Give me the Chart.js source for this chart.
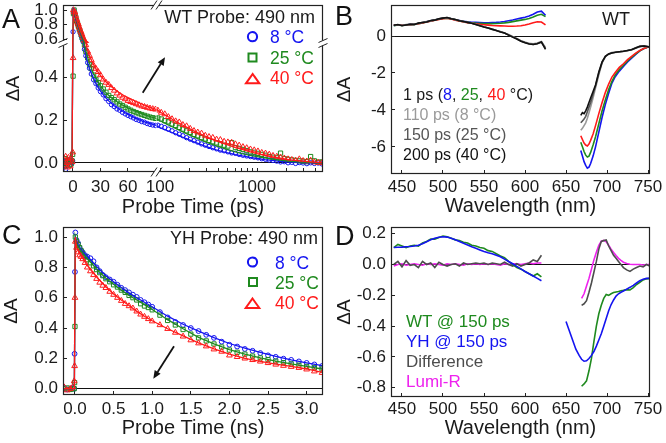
<!DOCTYPE html>
<html>
<head>
<meta charset="utf-8">
<title>Figure</title>
<script src="https://cdn.jsdelivr.net/npm/chart.js@4.4.1/dist/chart.umd.min.js"></script>
<style>
html,body{margin:0;padding:0;background:#fff;}
#wrap{position:relative;width:666px;height:443px;overflow:hidden;background:#fff;}
#wrap canvas{position:absolute;}
#ov{position:absolute;left:0;top:0;pointer-events:none;font-family:'Liberation Sans',Arial,sans-serif;}
</style>
</head>
<body>
<div id="wrap">
  <canvas id="cA" width="333" height="222" style="left:0;top:0;width:333px;height:222px"></canvas>
  <canvas id="cB" width="333" height="222" style="left:333px;top:0;width:333px;height:222px"></canvas>
  <canvas id="cC" width="333" height="221" style="left:0;top:222px;width:333px;height:221px"></canvas>
  <canvas id="cD" width="333" height="221" style="left:333px;top:222px;width:333px;height:221px"></canvas>
  <svg id="ov" width="666" height="443" viewBox="0 0 666 443">
    <g font-size="27" fill="#111">
      <text x="2" y="28">A</text><text x="335" y="25">B</text>
      <text x="2" y="244">C</text><text x="335" y="245">D</text>
    </g>
    <!-- Panel A texts -->
    <text x="315" y="23" font-size="18" text-anchor="end" fill="#1a1a1a">WT Probe: 490 nm</text>
    <circle cx="252.5" cy="36.7" r="4.6" fill="none" stroke="#1414f0" stroke-width="2"/>
    <rect x="248.5" y="53.5" width="8" height="8" fill="none" stroke="#1f8a1f" stroke-width="2"/>
    <polygon points="252.7,74 259.3,83.3 246,83.3" fill="none" stroke="#ff1a1a" stroke-width="2"/>
    <text x="270" y="43" font-size="17.5" fill="#1414f0">8 °C</text>
    <text x="270" y="63.5" font-size="17.5" fill="#1f8a1f">25 °C</text>
    <text x="270" y="84" font-size="17.5" fill="#ff1a1a">40 °C</text>
    <text x="193" y="213" font-size="20" text-anchor="middle" fill="#1a1a1a">Probe Time (ps)</text>
    <text transform="translate(18.6,88.5) rotate(-90)" font-size="19" text-anchor="middle" fill="#1a1a1a">ΔA</text>
    <line x1="142.7" y1="92.7" x2="160.7" y2="64.1" stroke="#111" stroke-width="1.8"/>
    <polygon points="165,57.3 163.7,66 157.7,62.2" fill="#111"/>
    <!-- Panel B texts -->
    <text x="630" y="25" font-size="18" text-anchor="end" fill="#1a1a1a">WT</text>
    <g font-size="16">
      <text x="403" y="100" fill="#1a1a1a">1 ps (<tspan fill="#1414f0">8</tspan>, <tspan fill="#1f8a1f">25</tspan>, <tspan fill="#ff1a1a">40</tspan> °C)</text>
      <text x="403" y="119.5" fill="#9a9a9a">110 ps (8 °C)</text>
      <text x="403" y="139.5" fill="#555555">150 ps (25 °C)</text>
      <text x="403" y="159.5" fill="#111111">200 ps (40 °C)</text>
    </g>
    <!-- Panel C texts -->
    <text x="318" y="244" font-size="18" text-anchor="end" fill="#1a1a1a">YH Probe: 490 nm</text>
    <circle cx="252.5" cy="262" r="4.6" fill="none" stroke="#1414f0" stroke-width="2"/>
    <rect x="249" y="278" width="8" height="8" fill="none" stroke="#1f8a1f" stroke-width="2"/>
    <polygon points="252.5,298.5 259.3,308 245.7,308" fill="none" stroke="#ff1a1a" stroke-width="2"/>
    <text x="275" y="269" font-size="17.5" fill="#1414f0">8 °C</text>
    <text x="275" y="289" font-size="17.5" fill="#1f8a1f">25 °C</text>
    <text x="275" y="309" font-size="17.5" fill="#ff1a1a">40 °C</text>
    <line x1="174" y1="346.3" x2="157.6" y2="371.9" stroke="#111" stroke-width="1.8"/>
    <polygon points="153.3,378.7 160.6,373.8 154.7,370" fill="#111"/>
    <!-- Panel D texts -->
    <g font-size="17">
      <text x="406" y="327" fill="#1f8a1f">WT @ 150 ps</text>
      <text x="406" y="347" fill="#1414f0">YH @ 150 ps</text>
      <text x="406" y="367" fill="#4d4d4d">Difference</text>
      <text x="406" y="387" fill="#ee22ee">Lumi-R</text>
    </g>
  </svg>
</div>
<script>
// ---------------- Panel A data (WT, probe 490 nm) ----------------
const aTimes = [-10, -9, -8, -7, -6, -5, -4, -3, -2, -1, -0.4, 0.1, 0.5, 1.2, 2, 3, 4, 5, 6, 7, 8, 9, 10, 11, 12.5, 14, 16, 18, 20, 22.5, 25, 27.5, 30, 33, 36, 39, 42, 45, 48, 51, 54, 57, 60, 63, 66, 69, 72, 75, 78, 81, 84, 87, 90,
  95, 103, 112, 122, 133, 145, 158, 172, 188, 205, 224, 245, 268, 293, 320, 350, 383, 419, 458, 501, 548, 599, 655, 716, 783, 856, 936, 1023, 1119, 1223, 1337, 1462, 1599, 1748, 1911, 2090, 2285, 2498, 2731, 2986, 3265, 3570, 3903, 4267, 4665];
const aBlue = [-0.02, 0.005, -0.03, 0.01, -0.01, 0.0, 0.015, -0.01, 0.005, 0.0, 0.01, 0.7, 0.96, 0.99,
  0.94, 0.88, 0.84, 0.8, 0.76, 0.72, 0.68, 0.64, 0.6, 0.565, 0.53, 0.5, 0.468, 0.442, 0.415, 0.388, 0.37, 0.35,
  0.333, 0.318, 0.3, 0.287, 0.272, 0.263, 0.252, 0.246, 0.236, 0.229, 0.222, 0.216, 0.21, 0.203, 0.199, 0.193, 0.19, 0.184, 0.18, 0.177, 0.175,
  0.176, 0.171, 0.165, 0.158, 0.150, 0.141, 0.134, 0.127, 0.118, 0.111, 0.104, 0.097, 0.089, 0.083, 0.077, 0.071, 0.066, 0.060, 0.057, 0.052,
  0.047, 0.045, 0.040, 0.036, 0.033, 0.030, 0.027, 0.024, 0.020, 0.017, 0.014, 0.012, 0.009, 0.005, 0.006, 0.001, 0.003, -0.002, 0.002, 0.000,
  -0.003, 0.001, -0.002, 0.000, -0.004];
const aGreen = [0.01, -0.015, 0.02, -0.005, 0.0, 0.012, -0.01, 0.005, -0.005, 0.01, 0.04, 0.405, 0.95, 1.0,
  0.95, 0.9, 0.85, 0.81, 0.77, 0.73, 0.7, 0.66, 0.62, 0.59, 0.55, 0.52, 0.49, 0.46, 0.44, 0.41, 0.39, 0.375,
  0.36, 0.345, 0.33, 0.315, 0.305, 0.295, 0.285, 0.275, 0.268, 0.26, 0.252, 0.246, 0.24, 0.235, 0.23, 0.226, 0.222, 0.218, 0.214, 0.211, 0.208,
  0.21, 0.205, 0.197, 0.192, 0.182, 0.175, 0.166, 0.158, 0.150, 0.143, 0.133, 0.127, 0.118, 0.112, 0.105, 0.099, 0.094, 0.088, 0.083, 0.079,
  0.095, 0.072, 0.068, 0.063, 0.058, 0.052, 0.050, 0.045, 0.040, 0.036, 0.030, 0.027, 0.024, 0.046, 0.020, 0.017, 0.014, 0.012, 0.010, 0.008,
  0.006, 0.030, 0.010, 0.004, 0.005];
const aRed = [0.02, -0.01, 0.03, 0.0, -0.02, 0.025, 0.01, -0.015, 0.02, 0.005, 0.05, 0.49, 1.0, 0.97,
  0.97, 0.92, 0.87, 0.83, 0.8, 0.76, 0.72, 0.69, 0.66, 0.62, 0.58, 0.55, 0.52, 0.5, 0.48, 0.455, 0.44, 0.425,
  0.41, 0.39, 0.375, 0.365, 0.35, 0.338, 0.325, 0.315, 0.305, 0.298, 0.29, 0.285, 0.28, 0.275, 0.27, 0.265, 0.262, 0.258, 0.255, 0.252, 0.25,
  0.245, 0.235, 0.228, 0.215, 0.205, 0.195, 0.19, 0.178, 0.172, 0.16, 0.15, 0.143, 0.138, 0.128, 0.122, 0.118, 0.11, 0.108, 0.10, 0.097,
  0.095, 0.088, 0.082, 0.075, 0.07, 0.064, 0.06, 0.055, 0.048, 0.045, 0.04, 0.034, 0.03, 0.026, 0.022, 0.018, 0.015, 0.012, 0.018, 0.01,
  0.008, 0.012, 0.004, 0.002, 0.0];
const aFitTimes = [-11, -1, -0.3, 0.4, 1, 2, 3, 4, 5, 6, 8, 10, 12, 15, 18, 22, 26, 30, 35, 40, 45, 50, 55, 60, 65, 70, 75, 80, 85, 90,
  95, 100, 110, 120, 135, 150, 170, 190, 220, 250, 290, 330, 380, 440, 500, 600, 700, 850, 1000, 1200, 1500, 1800, 2200, 2700, 3300, 4000, 4800];
const aFitBlue = [0, 0, 0, 1.0, 0.98, 0.93, 0.88, 0.84, 0.8, 0.76, 0.69, 0.61, 0.545, 0.48, 0.44, 0.397, 0.362, 0.335, 0.307, 0.285,
  0.267, 0.252, 0.239, 0.227, 0.216, 0.206, 0.197, 0.189, 0.182, 0.176, 0.17, 0.165, 0.157, 0.15, 0.141, 0.132, 0.121, 0.112, 0.1, 0.09,
  0.079, 0.07, 0.061, 0.053, 0.047, 0.039, 0.033, 0.026, 0.021, 0.016, 0.011, 0.007, 0.004, 0.002, 0.001, 0.0, 0.0];
const aFitGreen = [0, 0, 0, 1.0, 0.99, 0.94, 0.89, 0.85, 0.81, 0.77, 0.7, 0.625, 0.56, 0.505, 0.465, 0.42, 0.39, 0.36, 0.333, 0.31,
  0.295, 0.28, 0.268, 0.257, 0.247, 0.238, 0.23, 0.222, 0.215, 0.209, 0.203, 0.197, 0.188, 0.179, 0.168, 0.158, 0.146, 0.136, 0.123, 0.112,
  0.1, 0.09, 0.08, 0.07, 0.062, 0.052, 0.044, 0.036, 0.03, 0.024, 0.017, 0.012, 0.008, 0.005, 0.003, 0.001, 0.0];
const aFitRed = [0, 0, 0, 1.0, 0.99, 0.95, 0.91, 0.87, 0.83, 0.79, 0.72, 0.66, 0.6, 0.54, 0.5, 0.462, 0.432, 0.408, 0.382, 0.362,
  0.345, 0.33, 0.316, 0.305, 0.295, 0.285, 0.275, 0.266, 0.258, 0.251, 0.245, 0.238, 0.227, 0.217, 0.203, 0.19, 0.177, 0.166, 0.151, 0.139,
  0.126, 0.115, 0.104, 0.093, 0.084, 0.072, 0.063, 0.052, 0.044, 0.036, 0.027, 0.021, 0.015, 0.01, 0.006, 0.003, 0.001];
const aTicksLin = [0, 30, 60];
const aTicksLog = [100, 200, 300, 400, 500, 600, 700, 800, 900, 1000, 2000, 3000, 4000];
const aLogLabels = [100, 1000];
const aTicksLow = [0, 0.2, 0.4];
const aTicksHigh = [0.6, 0.8, 1.0];

// ---------------- Panel B data (WT spectra) ----------------
const bWl1 = [440, 445, 450, 455, 460, 465, 470, 475, 480, 485, 490, 495, 500, 505, 510, 515, 520, 525, 530, 535, 540, 545, 550, 555, 560, 565, 570, 575, 580, 585, 590, 595, 600, 605, 610, 615, 620, 625];
const bWl2 = [668, 670, 672, 674, 676, 678, 680, 683, 686, 690, 694, 698, 702, 706, 710, 715, 720, 725, 730, 735, 740, 745, 750, 752];
const bBlack1 = [0.58, 0.62, 0.56, 0.6, 0.64, 0.62, 0.7, 0.73, 0.76, 0.84, 0.86, 0.93, 0.97, 1.0, 0.94, 0.9, 0.83, 0.79, 0.74, 0.69, 0.63, 0.56, 0.49, 0.43, 0.36, 0.3, 0.22, 0.16, 0.05, -0.06, -0.16, -0.28, -0.36, -0.43, -0.46, -0.42, -0.33, -0.72];
const bBlack2 = [-4.3, -4.15, -4.2, -4.05, -3.85, -3.6, -3.35, -3.0, -2.65, -1.95, -1.4, -1.1, -0.97, -0.92, -0.88, -0.85, -0.82, -0.78, -0.74, -0.65, -0.56, -0.54, -0.58, -0.6];
const bLGray1 = [0.6, 0.6, 0.58, 0.62, 0.62, 0.65, 0.68, 0.74, 0.78, 0.82, 0.88, 0.92, 0.98, 0.99, 0.95, 0.88, 0.84, 0.78, 0.75, 0.7, 0.64, 0.57, 0.5, 0.44, 0.38, 0.3, 0.24, 0.17, 0.08, -0.03, -0.13, -0.25, -0.33, -0.4, -0.42, -0.38, -0.3, -0.62];
const bLGray2 = [-5.1, -5.0, -4.85, -4.7, -4.45, -4.15, -3.85, -3.35, -2.8, -2.1, -1.45, -1.12, -0.98, -0.92, -0.89, -0.86, -0.83, -0.79, -0.74, -0.66, -0.58, -0.55, -0.58, -0.6];
const bDGray1 = [0.59, 0.61, 0.57, 0.61, 0.63, 0.64, 0.69, 0.73, 0.77, 0.83, 0.87, 0.94, 0.97, 1.0, 0.94, 0.89, 0.83, 0.79, 0.74, 0.69, 0.63, 0.56, 0.49, 0.43, 0.37, 0.3, 0.23, 0.16, 0.06, -0.05, -0.15, -0.27, -0.35, -0.42, -0.45, -0.4, -0.32, -0.68];
const bDGray2 = [-4.7, -4.6, -4.5, -4.35, -4.1, -3.85, -3.6, -3.15, -2.7, -2.0, -1.42, -1.1, -0.97, -0.9, -0.88, -0.85, -0.82, -0.78, -0.73, -0.64, -0.56, -0.53, -0.57, -0.6];
const bBlue1 = [0.57, 0.6, 0.58, 0.6, 0.63, 0.64, 0.68, 0.72, 0.77, 0.82, 0.87, 0.92, 0.96, 0.98, 0.94, 0.88, 0.84, 0.8, 0.77, 0.75, 0.74, 0.73, 0.72, 0.72, 0.73, 0.74, 0.76, 0.79, 0.83, 0.87, 0.92, 0.97, 1.02, 1.08, 1.18, 1.3, 1.35, 1.12];
const bBlue2 = [-6.2, -6.5, -6.8, -7.0, -7.15, -7.1, -6.9, -6.5, -6.0, -5.2, -4.4, -3.7, -3.1, -2.55, -2.2, -1.9, -1.65, -1.4, -1.2, -1.0, -0.8, -0.68, -0.6, -0.58];
const bGreen1 = [0.56, 0.6, 0.57, 0.6, 0.62, 0.63, 0.67, 0.71, 0.76, 0.81, 0.86, 0.91, 0.95, 0.97, 0.93, 0.87, 0.82, 0.78, 0.74, 0.72, 0.7, 0.69, 0.68, 0.67, 0.67, 0.68, 0.69, 0.71, 0.74, 0.78, 0.82, 0.86, 0.9, 0.95, 1.03, 1.12, 1.18, 1.05];
const bGreen2 = [-5.75, -6.0, -6.25, -6.45, -6.55, -6.5, -6.3, -5.9, -5.45, -4.75, -4.05, -3.45, -2.9, -2.45, -2.1, -1.82, -1.58, -1.35, -1.15, -0.97, -0.8, -0.68, -0.6, -0.58];
const bRed1 = [0.6, 0.61, 0.6, 0.61, 0.62, 0.64, 0.67, 0.71, 0.76, 0.8, 0.85, 0.9, 0.94, 0.96, 0.92, 0.86, 0.81, 0.76, 0.72, 0.69, 0.66, 0.63, 0.61, 0.59, 0.57, 0.56, 0.55, 0.54, 0.53, 0.53, 0.54, 0.56, 0.6, 0.65, 0.72, 0.77, 0.76, 0.6];
const bRed2 = [-5.4, -5.6, -5.8, -5.9, -5.95, -5.85, -5.65, -5.3, -4.85, -4.2, -3.6, -3.05, -2.6, -2.22, -1.97, -1.7, -1.5, -1.28, -1.1, -0.93, -0.78, -0.67, -0.6, -0.6];
const bTicksX = [450, 500, 550, 600, 650, 700, 750];
const bTicksY = [0, -2, -4, -6];

// ---------------- Panel C data (YH, probe 490 nm) ----------------
const cTimes = [-0.14, -0.1, -0.06, -0.03, -0.01, -0.005, 0, 0.005, 0.02, 0.04, 0.06, 0.08, 0.1, 0.13, 0.16, 0.2, 0.24, 0.28, 0.32, 0.36, 0.4, 0.45, 0.5, 0.55, 0.6, 0.65, 0.7, 0.75, 0.8, 0.85, 0.9, 0.95, 1.0, 1.1, 1.2, 1.3, 1.4, 1.5, 1.6, 1.7, 1.8, 1.9, 2.0, 2.1, 2.2, 2.3, 2.4, 2.5, 2.6, 2.7, 2.8, 2.9, 3.0, 3.1, 3.2];
const cBlue = [0.005, -0.005, 0.0, 0.005, 0.0, 0.23, 0.77, 1.03, 0.98, 0.96, 0.93, 0.91, 0.9, 0.88, 0.87, 0.86, 0.84, 0.8, 0.775, 0.75, 0.735, 0.72, 0.705, 0.685, 0.665, 0.65, 0.635, 0.62, 0.605, 0.585, 0.57, 0.555, 0.54, 0.505, 0.47, 0.44, 0.42, 0.4, 0.38, 0.355, 0.335, 0.31, 0.29, 0.278, 0.262, 0.25, 0.235, 0.22, 0.21, 0.198, 0.19, 0.18, 0.17, 0.16, 0.15];
const cGreen = [0.0, 0.005, -0.005, 0.0, 0.0, 0.04, 0.41, 1.0, 0.97, 0.95, 0.93, 0.91, 0.89, 0.87, 0.85, 0.83, 0.81, 0.785, 0.765, 0.745, 0.725, 0.705, 0.685, 0.67, 0.65, 0.635, 0.615, 0.6, 0.585, 0.56, 0.545, 0.535, 0.52, 0.485, 0.45, 0.42, 0.39, 0.36, 0.335, 0.315, 0.295, 0.275, 0.255, 0.24, 0.228, 0.215, 0.203, 0.192, 0.182, 0.172, 0.163, 0.155, 0.147, 0.138, 0.13];
const cRed = [0.01, -0.01, 0.0, 0.01, 0.05, 0.15, 0.6, 0.97, 0.93, 0.9, 0.88, 0.87, 0.855, 0.83, 0.8, 0.775, 0.75, 0.725, 0.7, 0.68, 0.665, 0.64, 0.62, 0.6, 0.58, 0.56, 0.545, 0.53, 0.51, 0.49, 0.475, 0.46, 0.445, 0.42, 0.395, 0.37, 0.345, 0.32, 0.3, 0.28, 0.26, 0.245, 0.22, 0.21, 0.2, 0.19, 0.18, 0.17, 0.16, 0.152, 0.145, 0.138, 0.128, 0.115, 0.105];
const cFitTimes = [-0.15, -0.008, 0.004, 0.02, 0.05, 0.1, 0.15, 0.2, 0.3, 0.4, 0.5, 0.6, 0.7, 0.8, 0.9, 1.0, 1.2, 1.4, 1.6, 1.8, 2.0, 2.2, 2.4, 2.6, 2.8, 3.0, 3.2];
const cFitBlue = [0, 0, 1.0, 0.97, 0.94, 0.905, 0.878, 0.852, 0.795, 0.745, 0.705, 0.667, 0.632, 0.6, 0.57, 0.54, 0.478, 0.425, 0.38, 0.337, 0.298, 0.268, 0.24, 0.213, 0.19, 0.17, 0.152];
const cFitGreen = [0, 0, 1.0, 0.96, 0.93, 0.893, 0.862, 0.835, 0.777, 0.728, 0.688, 0.65, 0.615, 0.585, 0.553, 0.522, 0.455, 0.395, 0.338, 0.295, 0.258, 0.228, 0.203, 0.182, 0.163, 0.147, 0.13];
const cFitRed = [0, 0, 1.0, 0.93, 0.9, 0.86, 0.82, 0.785, 0.725, 0.672, 0.625, 0.585, 0.548, 0.51, 0.478, 0.448, 0.395, 0.348, 0.302, 0.262, 0.228, 0.2, 0.18, 0.162, 0.147, 0.13, 0.107];
const cTicksX = [0, 0.5, 1.0, 1.5, 2.0, 2.5, 3.0];
const cTicksY = [0, 0.2, 0.4, 0.6, 0.8, 1.0];

// ---------------- Panel D data (WT vs YH at 150 ps) ----------------
const dWl1 = [440, 445, 450, 455, 460, 465, 470, 475, 480, 485, 490, 495, 500, 505, 510, 515, 520, 525, 530, 535, 540, 545, 550, 555, 560, 565, 570, 575, 580, 585, 590, 595, 600, 605, 610, 615, 620];
const dWl2 = [650, 654, 658, 662, 666, 669, 672, 675, 678, 681, 684, 687, 690, 693, 696, 699, 702, 705, 708, 711, 714, 717, 720, 724, 728, 732, 736, 740, 744, 748, 752];
const dWT1 = [0.11, 0.13, 0.12, 0.11, 0.12, 0.125, 0.12, 0.14, 0.15, 0.165, 0.165, 0.175, 0.185, 0.18, 0.17, 0.16, 0.155, 0.145, 0.14, 0.125, 0.12, 0.11, 0.105, 0.09, 0.085, 0.07, 0.055, 0.045, 0.02, 0.0, -0.02, -0.03, -0.045, -0.06, -0.075, -0.06, -0.08];
const dWT2 = [null, null, null, null, null, -0.79, -0.775, -0.755, -0.69, -0.61, -0.5, -0.4, -0.32, -0.265, -0.22, -0.195, -0.2, -0.19, -0.182, -0.178, -0.175, -0.17, -0.168, -0.163, -0.165, -0.15, -0.13, -0.115, -0.1, -0.093, -0.09];
const dYH1 = [0.11, 0.112, 0.113, 0.115, 0.117, 0.12, 0.125, 0.135, 0.148, 0.16, 0.17, 0.177, 0.18, 0.178, 0.17, 0.16, 0.15, 0.138, 0.127, 0.115, 0.105, 0.095, 0.085, 0.077, 0.07, 0.06, 0.05, 0.035, 0.02, 0.005, -0.012, -0.028, -0.045, -0.06, -0.075, -0.09, -0.105];
const dYH2 = [-0.37, -0.43, -0.49, -0.55, -0.59, -0.615, -0.628, -0.625, -0.61, -0.59, -0.565, -0.53, -0.49, -0.45, -0.4, -0.35, -0.3, -0.26, -0.23, -0.205, -0.19, -0.18, -0.172, -0.16, -0.148, -0.135, -0.12, -0.105, -0.095, -0.09, -0.09];
const dDiff1 = [0, 0.02, -0.015, 0.025, -0.005, 0, -0.02, 0.02, 0, 0.01, -0.02, 0.015, 0, -0.01, 0, 0.005, -0.01, 0.01, 0, 0.005, 0.01, 0.005, 0.01, 0, 0.01, 0.005, 0, 0.015, 0, -0.01, 0.005, -0.01, 0, 0.01, 0.03, 0.02, 0.06];
const dDiff2 = [null, null, null, null, null, -0.265, -0.255, -0.235, -0.18, -0.12, -0.05, 0.02, 0.1, 0.15, 0.155, 0.16, 0.12, 0.09, 0.06, 0.04, 0.02, 0.0, -0.02, -0.035, -0.045, -0.03, -0.02, -0.01, -0.015, 0.0, -0.01];
const dLumi1 = [-0.01, 0, 0.005, -0.005, 0, 0.005, 0, -0.005, 0.005, 0, 0.005, 0, -0.005, 0.005, 0, 0.005, 0, -0.005, 0.005, 0, 0.005, 0, 0.005, 0, 0.005, 0, -0.005, 0.005, 0, 0.005, 0.005, 0, 0.005, 0.01, 0.005, 0.01, 0.01];
const dLumi2 = [null, null, null, null, null, -0.22, -0.19, -0.14, -0.09, -0.03, 0.03, 0.08, 0.125, 0.152, 0.157, 0.148, 0.125, 0.1, 0.078, 0.058, 0.04, 0.027, 0.015, 0.006, 0.002, 0.0, 0.0, 0.0, -0.003, 0.0, 0.0];
const dTicksX = [450, 500, 550, 600, 650, 700, 750];
const dTicksY = [0.2, 0, -0.2, -0.4, -0.6, -0.8];

// ---------------- styling ----------------
const BLUE = '#1414f0', GREEN = '#1f8a1f', RED = '#ff1a1a', MAG = '#ee22ee',
      LGRAY = '#9a9a9a', DGRAY = '#555555', BLACK = '#111111', DIFF = '#4d4d4d';
Chart.defaults.font.family = "'Liberation Sans', Arial, sans-serif";
Chart.defaults.color = '#1a1a1a';

function pts(xs, ys) { return xs.map((x, i) => ({x: x, y: ys[i]})); }

function mkAxis(o) {
  return {
    type: o.type || 'linear', position: o.pos, min: o.min, max: o.max,
    stack: o.stack, stackWeight: o.weight,
    border: {display: false},
    grid: {
      drawOnChartArea: !!o.zero,
      color: o.zero ? (c => (c.tick && Math.abs(c.tick.value) < 1e-9) ? '#111' : 'rgba(0,0,0,0)') : 'rgba(0,0,0,0)',
      tickColor: '#222', tickLength: -4, lineWidth: 1, tickWidth: 1
    },
    ticks: {font: {size: 17}, color: '#1a1a1a', padding: o.tp, autoSkip: false, maxRotation: 0, minRotation: 0, callback: o.fmt},
    afterBuildTicks: s => { s.ticks = o.ticks.map(v => ({value: v})); },
    afterFit: s => {
      if (o.pos === 'left') { s.width = o.size; } else { s.height = o.size; }
      s.paddingTop = 0; s.paddingBottom = 0; s.paddingLeft = 0; s.paddingRight = 0;
    },
    title: o.title ? {display: true, text: o.title, font: {size: o.tsize || 20}, color: '#1a1a1a', padding: o.tpad} : {display: false}
  };
}

const framePlugin = {
  id: 'frame',
  afterDraw(chart) {
    const a = chart.chartArea, c = chart.ctx;
    c.save(); c.strokeStyle = '#222'; c.lineWidth = 1.2;
    const l = Math.round(a.left) + 0.5, t = Math.round(a.top) + 0.5, r = Math.round(a.right) - 0.5, b = Math.round(a.bottom) - 0.5;
    c.strokeRect(l, t, r - l, b - t);
    c.restore();
  }
};

const segClip = {
  id: 'segClip',
  beforeDatasetDraw(chart, args) {
    const m = args.meta, c = chart.ctx;
    c.save(); c.beginPath();
    c.rect(m.xScale.left, m.yScale.top, m.xScale.right - m.xScale.left, m.yScale.bottom - m.yScale.top);
    c.clip();
  },
  afterDatasetDraw(chart) { chart.ctx.restore(); }
};

const breakMarks = {
  id: 'breakMarks',
  afterDraw(chart) {
    const c = chart.ctx, a = chart.chartArea, s = chart.scales;
    const bx = s.xLin.right, by = s.yHigh.bottom;
    c.save();
    c.fillStyle = '#fff';
    c.fillRect(bx - 2.5, a.top - 4, 5, 8);
    c.fillRect(bx - 2.5, a.bottom - 4, 5, 8);
    c.fillRect(a.left - 4, by - 2.5, 8, 5);
    c.fillRect(a.right - 4, by - 2.5, 8, 5);
    c.strokeStyle = '#222'; c.lineWidth = 1;
    const v = (x, y) => { c.beginPath(); c.moveTo(x - 3, y + 4.5); c.lineTo(x + 3, y - 4.5); c.stroke(); };
    const h = (x, y) => { c.beginPath(); c.moveTo(x - 4.5, y + 2); c.lineTo(x + 4.5, y - 2); c.stroke(); };
    [a.top, a.bottom].forEach(y => { v(bx - 2.5, y); v(bx + 2.5, y); });
    [a.left, a.right].forEach(x => { h(x, by - 2.5); h(x, by + 2.5); });
    c.restore();
  }
};

function baseOptions(pad, scales) {
  return {
    responsive: false, animation: false, events: [], devicePixelRatio: 1,
    layout: {padding: pad},
    plugins: {legend: {display: false}, tooltip: {enabled: false}},
    scales: scales
  };
}
function lineDs(data, color, w, ex) {
  return Object.assign({data: data, showLine: true, borderColor: color, backgroundColor: color, borderWidth: w,
    pointRadius: 0, pointHoverRadius: 0, tension: 0, spanGaps: false}, ex || {});
}
function markDs(data, color, style, r, ex) {
  return Object.assign({data: data, showLine: false, pointStyle: style, pointRadius: r, pointHoverRadius: r,
    borderColor: color, backgroundColor: 'rgba(0,0,0,0)', borderWidth: 1}, ex || {});
}

// ---------------- Panel A ----------------
const aSeries = [
  {vals: aRed, fit: aFitRed, c: RED, st: 'triangle', r: 3.3},
  {vals: aGreen, fit: aFitGreen, c: GREEN, st: 'rect', r: 3},
  {vals: aBlue, fit: aFitBlue, c: BLUE, st: 'circle', r: 2.2}
];
const aSegs = [['xLin', 'yLow'], ['xLin', 'yHigh'], ['xLog', 'yLow']];
const aDatasets = [];
aSegs.forEach(([xa, ya]) => aSeries.forEach(s =>
  aDatasets.push(lineDs(pts(aFitTimes, s.fit), s.c, 1.3, {xAxisID: xa, yAxisID: ya, clip: 0}))));
aSegs.forEach(([xa, ya]) => aSeries.forEach(s =>
  aDatasets.push(markDs(pts(aTimes, s.vals), s.c, s.st, s.r, {xAxisID: xa, yAxisID: ya, clip: 0}))));

new Chart(document.getElementById('cA'), {
  type: 'scatter',
  data: {datasets: aDatasets},
  options: baseOptions({left: 0, right: 10, top: 5, bottom: 0}, {
    xLin: mkAxis({pos: 'bottom', stack: 'ax', weight: 93.5, min: -10.9, max: 91.1, ticks: aTicksLin, fmt: v => String(v), size: 50, tp: 9}),
    xLog: mkAxis({type: 'logarithmic', pos: 'bottom', stack: 'ax', weight: 166.5, min: 92, max: 4790, ticks: aTicksLog,
      fmt: v => (aLogLabels.indexOf(v) >= 0 ? String(v) : ''), size: 50, tp: 9}),
    yLow: mkAxis({pos: 'left', stack: 'ay', weight: 129, min: -0.042, max: 0.5595, ticks: aTicksLow, fmt: v => v.toFixed(1), size: 63, tp: 9, zero: true}),
    yHigh: mkAxis({pos: 'left', stack: 'ay', weight: 38, min: 0.545, max: 1.069, ticks: aTicksHigh, fmt: v => v.toFixed(1), size: 63, tp: 9})
  }),
  plugins: [segClip, framePlugin, breakMarks]
});

// ---------------- Panel B ----------------
const bSeries = [
  [bBlack1, bBlack2, BLACK], [bDGray1, bDGray2, DGRAY], [bLGray1, bLGray2, LGRAY],
  [bRed1, bRed2, RED], [bGreen1, bGreen2, GREEN], [bBlue1, bBlue2, BLUE]
];
const bDatasets = [];
bSeries.forEach(s => {
  bDatasets.push(lineDs(pts(bWl1, s[0]), s[2], 1.6));
  bDatasets.push(lineDs(pts(bWl2, s[1]), s[2], 1.6));
});
new Chart(document.getElementById('cB'), {
  type: 'scatter',
  data: {datasets: bDatasets},
  options: baseOptions({left: 0, right: 16, top: 5, bottom: 0}, {
    x: mkAxis({pos: 'bottom', min: 436.6, max: 752.4, ticks: bTicksX, fmt: v => String(v), size: 48, tp: 7,
      title: 'Wavelength (nm)', tpad: {top: 0, bottom: 4}}),
    y: mkAxis({pos: 'left', min: -7.47, max: 1.68, ticks: bTicksY, fmt: v => String(v), size: 58, tp: 9, zero: true,
      title: 'ΔA', tsize: 19, tpad: {top: 0.5, bottom: 0}})
  }),
  plugins: [framePlugin]
});

// ---------------- Panel C ----------------
const cSeries = [
  {vals: cRed, fit: cFitRed, c: RED, st: 'triangle', r: 3.3},
  {vals: cGreen, fit: cFitGreen, c: GREEN, st: 'rect', r: 3},
  {vals: cBlue, fit: cFitBlue, c: BLUE, st: 'circle', r: 2.4}
];
const cDatasets = [];
cSeries.forEach(s => cDatasets.push(lineDs(pts(cFitTimes, s.fit), s.c, 1.3)));
cSeries.forEach(s => cDatasets.push(markDs(pts(cTimes, s.vals), s.c, s.st, s.r)));
new Chart(document.getElementById('cC'), {
  type: 'scatter',
  data: {datasets: cDatasets},
  options: baseOptions({left: 0, right: 10, top: 5, bottom: 0}, {
    x: mkAxis({pos: 'bottom', min: -0.155, max: 3.212, ticks: cTicksX, fmt: v => v.toFixed(1), size: 48, tp: 8,
      title: 'Probe Time (ns)', tpad: {top: 0, bottom: 3}}),
    y: mkAxis({pos: 'left', min: -0.0415, max: 1.066, ticks: cTicksY, fmt: v => v.toFixed(1), size: 63, tp: 9, zero: true,
      title: 'ΔA', tsize: 19, tpad: {top: 0.5, bottom: 0}})
  }),
  plugins: [framePlugin]
});

// ---------------- Panel D ----------------
const dSeries = [
  [dYH1, dYH2, BLUE], [dWT1, dWT2, GREEN], [dDiff1, dDiff2, DIFF], [dLumi1, dLumi2, MAG]
];
const dDatasets = [];
dSeries.forEach(s => {
  dDatasets.push(lineDs(pts(dWl1, s[0]), s[2], 1.6));
  dDatasets.push(lineDs(pts(dWl2, s[1]), s[2], 1.6));
});
new Chart(document.getElementById('cD'), {
  type: 'scatter',
  data: {datasets: dDatasets},
  options: baseOptions({left: 0, right: 16, top: 5, bottom: 0}, {
    x: mkAxis({pos: 'bottom', min: 436.6, max: 752.4, ticks: dTicksX, fmt: v => String(v), size: 46, tp: 6,
      title: 'Wavelength (nm)', tpad: {top: 0, bottom: 3}}),
    y: mkAxis({pos: 'left', min: -0.86, max: 0.2435, ticks: dTicksY, fmt: v => v.toFixed(1), size: 58, tp: 9, zero: true,
      title: 'ΔA', tsize: 19, tpad: {top: 0.5, bottom: 0}})
  }),
  plugins: [framePlugin]
});
</script>
</body>
</html>
